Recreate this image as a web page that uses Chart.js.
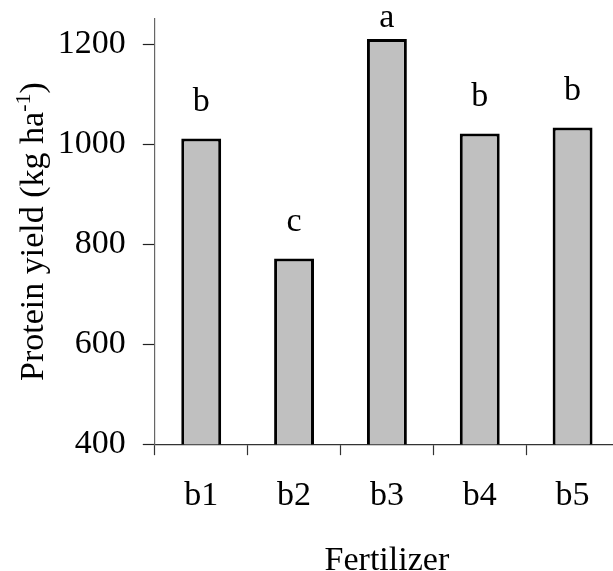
<!DOCTYPE html>
<html>
<head>
<meta charset="utf-8">
<script src="https://cdn.jsdelivr.net/npm/chart.js@4"></script>
<style>
  html, body { margin: 0; padding: 0; overflow: hidden; background: #fff; }
  #wrap { width: 625px; height: 571px; }
</style>
</head>
<body>
<div id="wrap"><canvas id="proteinChart" width="625" height="571"></canvas></div>
<script>
// values
const fertilizers = ['b1', 'b2', 'b3', 'b4', 'b5'];
const proteinYield = [1011, 771, 1210, 1021, 1033];
const groupLetters = ['b', 'c', 'a', 'b', 'b'];
const yTickValues = [400, 600, 800, 1000, 1200];

const serif = "'Liberation Serif', 'Times New Roman', serif";
const fontSize = 34;

// draws the significance letters above each bar
const letterPlugin = {
    id: 'letters',
    afterDatasetsDraw(chart) {
        const ctx = chart.ctx;
        const bars = chart.getDatasetMeta(0).data;
        ctx.save();
        ctx.font = fontSize + 'px ' + serif;
        ctx.fillStyle = '#000';
        ctx.textAlign = 'center';
        ctx.textBaseline = 'alphabetic';
        bars.forEach((bar, i) => {
            const y = Math.max(bar.y - 28, 27);
            ctx.fillText(groupLetters[i], bar.x, y);
        });
        ctx.restore();
    }
};

// y title with the superscript -1
const yTitlePlugin = {
    id: 'yTitle',
    afterDraw(chart) {
        const ctx = chart.ctx;
        const area = chart.chartArea;
        const main = 'Protein yield (kg ha';
        const sup = '-1';
        const end = ')';
        const big = fontSize + 'px ' + serif;
        const small = '22px ' + serif;
        ctx.save();
        ctx.fillStyle = '#000';
        ctx.font = big;
        const wMain = ctx.measureText(main).width;
        const wEnd = ctx.measureText(end).width;
        ctx.font = small;
        const wSup = ctx.measureText(sup).width;
        const total = wMain + wSup + wEnd;
        ctx.translate(43, (area.top + area.bottom) / 2);
        ctx.rotate(-Math.PI / 2);
        ctx.textBaseline = 'alphabetic';
        ctx.textAlign = 'left';
        let x = -total / 2;
        ctx.font = big;
        ctx.fillText(main, x, 0);
        x += wMain;
        ctx.font = small;
        ctx.fillText(sup, x, -13);
        x += wSup;
        ctx.font = big;
        ctx.fillText(end, x, 0);
        ctx.restore();
    }
};

new Chart(document.getElementById('proteinChart'), {
    type: 'bar',
    data: {
        labels: fertilizers,
        datasets: [{
            data: proteinYield,
            backgroundColor: '#c0c0c0',
            borderColor: '#000',
            borderWidth: 3,
            categoryPercentage: 1,
            barPercentage: 0.43
        }]
    },
    options: {
        responsive: false,
        animation: false,
        layout: { padding: { top: 19, left: 0, right: 6, bottom: 0 } },
        plugins: {
            legend: { display: false },
            tooltip: { enabled: false }
        },
        scales: {
            x: {
                border: { color: '#333', width: 1.2 },
                grid: { drawOnChartArea: false, tickLength: 11, color: '#333', tickWidth: 1.2 },
                ticks: { color: '#000', font: { family: serif, size: fontSize }, padding: 21 },
                title: {
                    display: true,
                    text: 'Fertilizer',
                    color: '#000',
                    font: { family: serif, size: fontSize, lineHeight: 0.56 },
                    padding: { top: 14, bottom: 0 }
                }
            },
            y: {
                min: 400,
                max: 1250,
                afterBuildTicks(scale) {
                    scale.ticks = yTickValues.map(v => ({ value: v }));
                },
                afterFit(scale) {
                    scale.paddingTop = 0;
                    scale.paddingBottom = 0;
                },
                border: { color: '#666', width: 1.2 },
                grid: { drawOnChartArea: false, tickLength: 12, color: '#222', tickWidth: 1.2 },
                ticks: {
                    color: '#000',
                    font: { family: serif, size: fontSize },
                    padding: 17,
                    callback: v => String(v)
                },
                title: {
                    display: true,
                    text: ' ',
                    color: '#000',
                    font: { family: serif, size: fontSize },
                    padding: 0
                }
            }
        }
    },
    plugins: [letterPlugin, yTitlePlugin]
});
</script>
</body>
</html>
